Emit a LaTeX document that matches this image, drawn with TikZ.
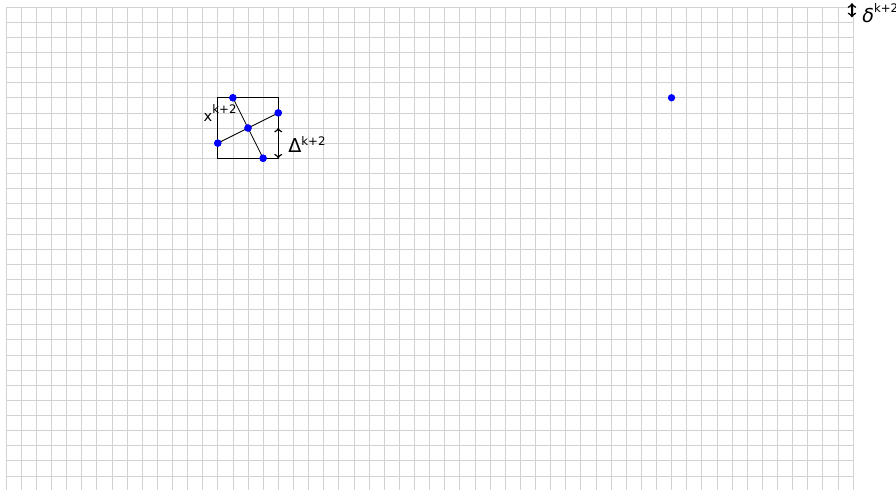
\documentclass[tikz,border=0pt]{standalone}
\usepackage{fontspec}
\setmainfont{DejaVu Sans}
\newcommand\kpt[1]{\raisebox{#1}{\fontsize{8}{9}\selectfont k+2}}
\begin{document}
\begin{tikzpicture}[x=10.285pt,y=-10.285pt,
  gridline/.style={gray!35,line width=0.5pt},
  edge/.style={black,line width=0.6pt},
  dot/.style={circle,fill=blue,inner sep=0pt,minimum size=5pt},
  dimarrow/.style={<->,line width=1pt},
  lbl/.style={inner sep=1pt,font=\fontsize{10}{12}\selectfont}]
\useasboundingbox (-0.3967,-0.4628) rectangle (58.843,31.934);
% grid
\foreach \i in {0,...,56} \draw[gridline] (\i,0) -- (\i,31.934);
\foreach \j in {0,...,31} \draw[gridline] (0,\j) -- (56,\j);
% square
\draw[edge] (14,6) rectangle (18,10);
% points
\node[dot] (a) at (15,6) {};
\node[dot] (b) at (18,7) {};
\node[dot] (c) at (16,8) {};
\node[dot] (d) at (14,9) {};
\node[dot] (e) at (17,10) {};
\node[dot] (f) at (44,6) {};
% segments
\draw[edge] (a.center) -- (c.center) -- (e.center);
\draw[edge] (d.center) -- (c.center) -- (b.center);
\node[dot] at (a) {};
\node[dot] at (b) {};
\node[dot] at (c) {};
\node[dot] at (d) {};
\node[dot] at (e) {};
% Delta arrow
\coordinate (ar1) at (18,8);
\coordinate (ar2) at (18,10);
\draw[dimarrow] (ar1) -- (ar2);
\node[lbl,anchor=base west] (dl) at (18.55,9.6) {{\fontsize{13}{15}\selectfont Δ}\kpt{4.8pt}};
% x label
\node[lbl,anchor=base west] (xl) at (12.95,7.6) {x\kpt{6pt}};
% delta legend
\coordinate (d1) at (55.93,-0.25);
\coordinate (d2) at (55.93,0.68);
\draw[dimarrow,line width=1.1pt] (d1) -- (d2);
\node[lbl,anchor=base west] (dd) at (56.5,1.02) {{\fontsize{13}{15}\selectfont\textit{δ}}\kpt{7pt}};
\end{tikzpicture}
\end{document}
